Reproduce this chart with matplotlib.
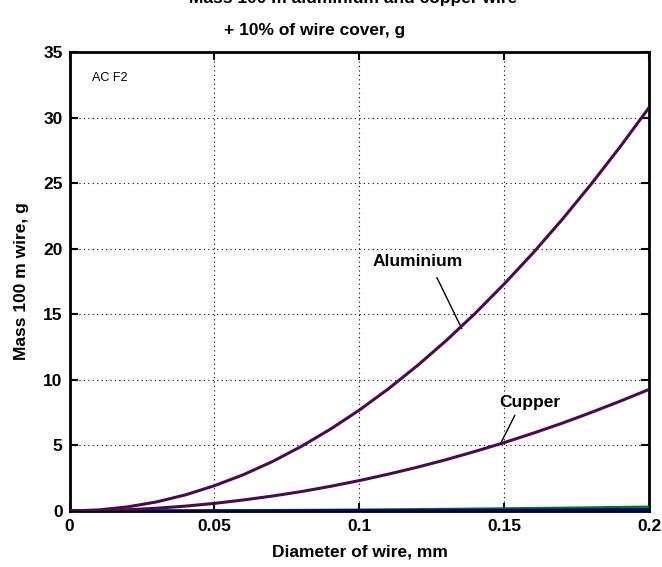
import matplotlib
matplotlib.use("Agg")
import matplotlib.pyplot as plt

plt.rcParams['font.family'] = ['Liberation Sans', 'DejaVu Sans']

diameter = [0.00, 0.01, 0.02, 0.03, 0.04, 0.05, 0.06, 0.07, 0.08, 0.09, 0.10,
            0.11, 0.12, 0.13, 0.14, 0.15, 0.16, 0.17, 0.18, 0.19, 0.20]
aluminium = [0, 0.08, 0.31, 0.69, 1.23, 1.93, 2.77, 3.77, 4.93, 6.24, 7.70,
             9.32, 11.09, 13.01, 15.09, 17.33, 19.71, 22.25, 24.95, 27.80, 30.80]
cupper = [0, 0.02, 0.09, 0.21, 0.37, 0.58, 0.84, 1.14, 1.48, 1.88, 2.32,
          2.81, 3.34, 3.92, 4.55, 5.22, 5.94, 6.70, 7.52, 8.38, 9.28]
cover_green = [0, 0.001, 0.003, 0.007, 0.012, 0.019, 0.027, 0.037, 0.048, 0.061, 0.075,
               0.091, 0.108, 0.127, 0.147, 0.169, 0.192, 0.217, 0.243, 0.271, 0.30]
cover_blue = [0, 0.0003, 0.001, 0.002, 0.004, 0.006, 0.009, 0.012, 0.016, 0.020, 0.025,
              0.030, 0.036, 0.042, 0.049, 0.056, 0.064, 0.072, 0.081, 0.090, 0.10]

xticks = [0, 0.05, 0.1, 0.15, 0.2]
xticklabels = ['0', '0.05', '0.1', '0.15', '0.2']
yticks = [0, 5, 10, 15, 20, 25, 30, 35]

fig = plt.figure(figsize=(6.62, 5.67), dpi=100)
ax = fig.add_axes([0.105, 0.0988, 0.876, 0.8095])

purple = '#4b0a4b'
ax.plot(diameter, cover_green, color='#0a7a0a', lw=2.2, zorder=3)
ax.plot(diameter, cover_blue, color='#00008b', lw=2.2, zorder=3)
ax.plot(diameter, aluminium, color=purple, lw=2.2, zorder=4)
ax.plot(diameter, cupper, color=purple, lw=2.2, zorder=4)

ax.set_xlim(0, 0.2)
ax.set_ylim(0, 35)
ax.set_xticks(xticks)
ax.set_xticklabels(xticklabels)
ax.set_yticks(yticks)
ax.grid(True, color='black', linestyle=(0, (1, 3)), linewidth=0.8)
ax.tick_params(direction='in', length=6, width=1.5, top=True, right=True,
               labelsize=12.5, pad=5)
ax.tick_params(axis='x', pad=6)
for lbl in ax.get_xticklabels() + ax.get_yticklabels():
    lbl.set_fontweight('bold')
for s in ax.spines.values():
    s.set_linewidth(2.0)

ax.set_xlabel('Diameter of wire, mm', fontsize=12.5, fontweight='bold', labelpad=7)
ax.set_ylabel('Mass 100 m wire, g', fontsize=12.5, fontweight='bold', labelpad=10)

ax.text(0.0077, 33.0, 'AC F2', fontsize=9, va='center', ha='left')

ax.text(0.120, 19.0, 'Aluminium', fontsize=12.5, fontweight='bold',
        ha='center', va='center')
ax.annotate('', xy=(0.1353, 13.9), xytext=(0.1267, 17.8),
            arrowprops=dict(arrowstyle='-', color='black', lw=1.0,
                            shrinkA=0, shrinkB=0))
ax.text(0.1588, 8.24, 'Cupper', fontsize=12.5, fontweight='bold',
        ha='center', va='center')
ax.annotate('', xy=(0.1488, 5.2), xytext=(0.1536, 7.3),
            arrowprops=dict(arrowstyle='-', color='black', lw=1.0,
                            shrinkA=0, shrinkB=0))

fig.text(353 / 662, 1 + 1 / 567, 'Mass 100 m aluminium and copper wire',
         fontsize=12.5, fontweight='bold', ha='center', va='center')
fig.text(315 / 662, 1 - 31 / 567, '+ 10% of wire cover, g',
         fontsize=12.5, fontweight='bold', ha='center', va='center')

fig.savefig('out.png', dpi=100)
